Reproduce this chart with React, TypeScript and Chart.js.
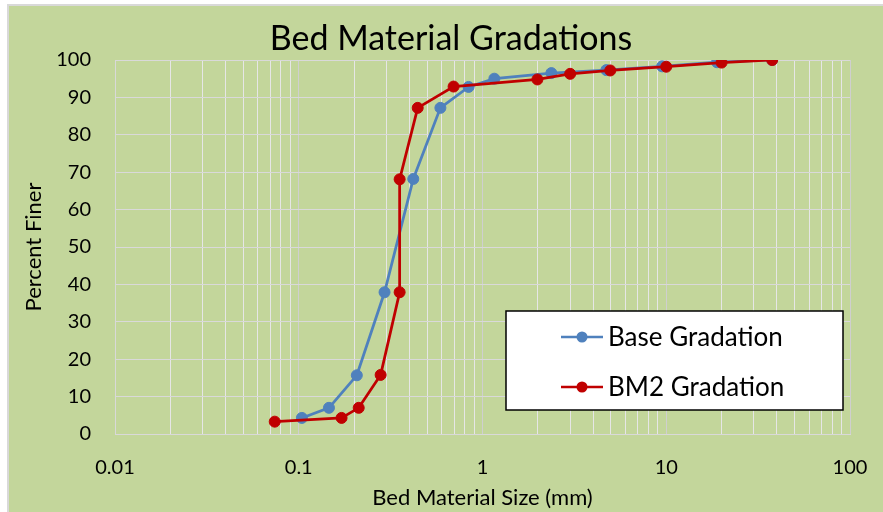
import React, { useEffect, useRef } from "react";
import { Chart, registerables } from "chart.js";

Chart.register(...registerables);

const chartTitle = "Bed Material Gradations";
const xAxisTitle = "Bed Material Size (mm)";
const yAxisTitle = "Percent Finer";

const xTickValues = [0.01, 0.1, 1, 10, 100];
const xTickLabels = ["0.01", "0.1", "1", "10", "100"];
const yMin = 0;
const yMax = 100;
const yStep = 10;

const baseLabel = "Base Gradation";
const baseSize = [0.104, 0.146, 0.207, 0.293, 0.42, 0.59, 0.84, 1.16, 2.37, 4.72, 9.5, 18.9, 37.7];
const basePercent = [4.3, 7.0, 15.7, 37.9, 68.2, 87.2, 92.8, 95.0, 96.5, 97.3, 98.3, 99.4, 100];

const bm2Label = "BM2 Gradation";
const bm2Size = [0.074, 0.171, 0.212, 0.279, 0.354, 0.354, 0.444, 0.696, 1.99, 3.0, 4.96, 10.0, 20.0, 37.7];
const bm2Percent = [3.3, 4.3, 7.0, 15.8, 37.9, 68.1, 87.2, 92.9, 94.8, 96.3, 97.2, 98.2, 99.3, 100];

const baseColor = "#4f81bd";
const bm2Color = "#c00000";

const FONT = "Lato, 'Noto Sans', sans-serif";

const isPow10 = (v: number) => {
  const l = Math.log10(v);
  return Math.abs(l - Math.round(l)) < 1e-9;
};

const xGridValues: number[] = (() => {
  const out: number[] = [];
  for (let i = 0; i < xTickValues.length - 1; i++) {
    for (let m = 1; m <= 9; m++) out.push(xTickValues[i] * m);
  }
  out.push(xTickValues[xTickValues.length - 1]);
  return out;
})();

const overlayPlugin = {
  id: "overlay",
  afterDraw(chart: any) {
    const ctx = chart.ctx as CanvasRenderingContext2D;
    const ca = chart.chartArea;
    ctx.save();
    // title
    ctx.fillStyle = "#000";
    ctx.font = `34px ${FONT}`;
    ctx.textAlign = "center";
    ctx.textBaseline = "middle";
    ctx.fillText(chartTitle, 451, 39);

    // legend box
    const bw = 337;
    const bh = 99;
    const bx = ca.right - 7 - bw;
    const by = ca.bottom - 24 - bh;
    ctx.fillStyle = "#ffffff";
    ctx.fillRect(bx, by, bw, bh);
    ctx.strokeStyle = "#000";
    ctx.lineWidth = 1.5;
    ctx.strokeRect(bx, by, bw, bh);

    const items = [
      { label: baseLabel, color: baseColor },
      { label: bm2Label, color: bm2Color },
    ];
    items.forEach((it, i) => {
      const y = by + 26 + i * 50;
      ctx.strokeStyle = it.color;
      ctx.lineWidth = 2.5;
      ctx.beginPath();
      ctx.moveTo(bx + 55, y);
      ctx.lineTo(bx + 97, y);
      ctx.stroke();
      ctx.fillStyle = it.color;
      ctx.beginPath();
      ctx.arc(bx + 76, y, 5.5, 0, Math.PI * 2);
      ctx.fill();
      ctx.fillStyle = "#000";
      ctx.font = `26px ${FONT}`;
      ctx.textAlign = "left";
      ctx.textBaseline = "middle";
      ctx.fillText(it.label, bx + 102, y + 1);
    });
    ctx.restore();
  },
};

export default function App() {
  const canvasRef = useRef<HTMLCanvasElement | null>(null);

  useEffect(() => {
    const canvas = canvasRef.current;
    if (!canvas) return;
    const chart = new Chart(canvas, {
      type: "scatter",
      data: {
        datasets: [
          {
            label: baseLabel,
            data: baseSize.map((x, i) => ({ x, y: basePercent[i] })),
            showLine: true,
            borderColor: baseColor,
            backgroundColor: baseColor,
            borderWidth: 2.75,
            pointRadius: 5.5,
            pointBorderWidth: 1,
            pointBackgroundColor: baseColor,
            pointBorderColor: baseColor,
            order: 1,
          },
          {
            label: bm2Label,
            data: bm2Size.map((x, i) => ({ x, y: bm2Percent[i] })),
            showLine: true,
            borderColor: bm2Color,
            backgroundColor: bm2Color,
            borderWidth: 2.75,
            pointRadius: 5.5,
            pointBorderWidth: 1,
            pointBackgroundColor: bm2Color,
            pointBorderColor: bm2Color,
            order: 0,
          },
        ],
      },
      options: {
        responsive: false,
        animation: false,
        devicePixelRatio: 1,
        layout: { padding: { top: 60, right: 33, left: 0, bottom: 0 } },
        plugins: {
          legend: { display: false },
          title: { display: false },
          tooltip: { enabled: false },
        },
        scales: {
          x: {
            type: "logarithmic",
            min: 0.01,
            max: 100,
            afterBuildTicks: (s: any) => {
              s.ticks = xGridValues.map((v) => ({ value: v }));
            },
            afterFit: (s: any) => {
              s.height = 78;
              s.paddingLeft = 0;
              s.paddingRight = 0;
            },
            ticks: {
              autoSkip: false,
              maxRotation: 0,
              minRotation: 0,
              padding: 22,
              color: "#000",
              font: { family: FONT, size: 20 },
              callback: (v: any) => {
                const val = Number(v);
                const idx = xTickValues.findIndex((t) => Math.abs(t - val) / t < 1e-6);
                return idx >= 0 ? xTickLabels[idx] : "";
              },
            },
            grid: {
              drawTicks: false,
              lineWidth: 1,
              color: (c: any) => (c.tick && isPow10(c.tick.value) ? "#cfcfcf" : "#e6e6e6"),
            },
            border: { color: "#d9d9d9" },
            title: {
              display: true,
              text: xAxisTitle,
              color: "#000",
              font: { family: FONT, size: 22 },
              padding: { top: 0, bottom: 1 },
            },
          },
          y: {
            min: yMin,
            max: yMax,
            afterFit: (s: any) => {
              s.width = 115;
              s.paddingTop = 0;
              s.paddingBottom = 0;
            },
            ticks: {
              stepSize: yStep,
              padding: 24,
              color: "#000",
              font: { family: FONT, size: 20 },
            },
            grid: { drawTicks: false, color: "#d9d9d9", lineWidth: 1 },
            border: { color: "#d9d9d9" },
            title: {
              display: true,
              text: yAxisTitle,
              color: "#000",
              font: { family: FONT, size: 22 },
              padding: { top: 21, bottom: 0 },
            },
          },
        },
      },
      plugins: [overlayPlugin],
    });
    return () => chart.destroy();
  }, []);

  return (
    <div style={{ position: "absolute", left: 0, top: 0, width: 883, height: 512, background: "#fff", overflow: "hidden" }}>
      <div
        style={{
          position: "absolute",
          left: 7,
          top: 4,
          right: 0,
          bottom: 0,
          background: "#c3d69b",
          borderLeft: "2px solid #d9d9d9",
          borderTop: "2px solid #d9d9d9",
        }}
      />
      <canvas ref={canvasRef} width={883} height={512} style={{ position: "absolute", left: 0, top: 0, display: "block" }} />
    </div>
  );
}
